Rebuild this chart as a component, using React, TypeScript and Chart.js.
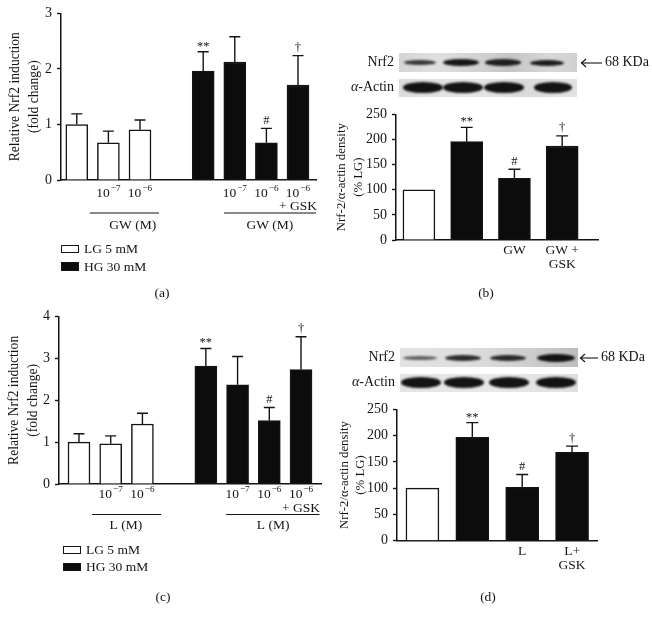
import React, { useEffect, useRef } from 'react';
import { Chart, registerables } from 'chart.js';

Chart.register(...registerables);

const FONT = '"Liberation Serif", "Times New Roman", serif';
const INK = '#141414';
const BLACK = '#0c0c0c';

// ---------- Panel (a): Nrf2 induction, GW ----------
const categoriesA: (string | string[])[] = ['', '10⁻⁷', '10⁻⁶', '', '', '10⁻⁷', '10⁻⁶', ['10⁻⁶', '+ GSK']];
const barSlotsA = [0, 1, 2, 4, 5, 6, 7];
const valuesA = [1.0, 0.67, 0.905, 1.96, 2.125, 0.67, 1.71];
const errorsA = [0.19, 0.21, 0.175, 0.35, 0.455, 0.26, 0.53];
const groupsA = ['LG', 'LG', 'LG', 'HG', 'HG', 'HG', 'HG'];
const marksA = ['', '', '', '**', '', '#', '†'];
const bracketLabelsA = ['GW (M)', 'GW (M)'];

// ---------- Panel (b): western blot density, GW ----------
const categoriesB: (string | string[])[] = ['', '', 'GW', ['GW +', 'GSK']];
const barSlotsB = [0, 1, 2, 3];
const valuesB = [100, 195.6, 122.7, 187];
const errorsB = [0, 28.4, 17.9, 20];
const groupsB = ['LG', 'HG', 'HG', 'HG'];
const marksB = ['', '**', '#', '†'];

// ---------- Panel (c): Nrf2 induction, L ----------
const categoriesC: (string | string[])[] = ['', '10⁻⁷', '10⁻⁶', '', '', '10⁻⁷', '10⁻⁶', ['10⁻⁶', '+ GSK']];
const barSlotsC = [0, 1, 2, 4, 5, 6, 7];
const valuesC = [1.0, 0.96, 1.435, 2.82, 2.37, 1.515, 2.735];
const errorsC = [0.2, 0.19, 0.255, 0.42, 0.68, 0.315, 0.785];
const groupsC = ['LG', 'LG', 'LG', 'HG', 'HG', 'HG', 'HG'];
const marksC = ['', '', '', '**', '', '#', '†'];
const bracketLabelsC = ['L (M)', 'L (M)'];

// ---------- Panel (d): western blot density, L ----------
const categoriesD: (string | string[])[] = ['', '', 'L', ['L+', 'GSK']];
const barSlotsD = [0, 1, 2, 3];
const valuesD = [100, 196.7, 101.5, 168];
const errorsD = [0, 28, 24.5, 12];
const groupsD = ['LG', 'HG', 'HG', 'HG'];
const marksD = ['', '**', '#', '†'];

const legendLabels = ['LG 5 mM', 'HG 30 mM'];

const SUP: Record<string, string> = {
  '⁻': '−', '⁰': '0', '¹': '1', '²': '2', '³': '3', '⁴': '4', '⁵': '5', '⁶': '6', '⁷': '7', '⁸': '8', '⁹': '9',
};

type Bracket = { from: number; to: number; labelAt: number; label: string };
type Spec = {
  w: number; h: number;
  left: number; right: number; top: number; bottom: number;
  categories: (string | string[])[];
  slots: number[]; values: number[]; errors: number[]; groups: string[]; marks: string[];
  xMin: number; xMax: number; yMax: number; yStep: number;
  barWidth: number; capHalf: number;
  title: string[]; titleSize: number; titleLine: number; titlePad: number;
  tickSize: number; labelDy: number; labelLine: number;
  brackets?: Bracket[]; bracketLineDy?: number; bracketLabelDy?: number;
};

// draws a text line, rendering trailing unicode superscripts as raised small text
function drawRich(ctx: CanvasRenderingContext2D, text: string, cx: number, cy: number, size: number) {
  const m = text.match(/^(.*?)([⁻⁰¹²³⁴⁵⁶⁷⁸⁹]+)$/);
  ctx.textBaseline = 'middle';
  if (!m) {
    ctx.font = `${size}px ${FONT}`;
    ctx.textAlign = 'center';
    ctx.fillText(text, cx, cy);
    return;
  }
  const base = m[1];
  const sup = m[2].split('').map((c) => SUP[c] || c).join('');
  const supSize = size * 0.68;
  ctx.font = `${size}px ${FONT}`;
  const wb = ctx.measureText(base).width;
  ctx.font = `${supSize}px ${FONT}`;
  const ws = ctx.measureText(sup).width;
  const x0 = cx - (wb + ws + 1) / 2;
  ctx.textAlign = 'left';
  ctx.font = `${size}px ${FONT}`;
  ctx.fillText(base, x0, cy);
  ctx.font = `${supSize}px ${FONT}`;
  ctx.fillText(sup, x0 + wb + 1, cy - size * 0.36);
}

function buildConfig(s: Spec): any {
  const data = s.slots.map((slot, i) => ({ x: slot, y: s.values[i] }));
  const colors = s.groups.map((g) => (g === 'LG' ? '#ffffff' : BLACK));
  const tickSlots = s.categories.map((c, i) => (Array.isArray(c) || c !== '' ? i : -1)).filter((i) => i >= 0);

  const overlay = {
    id: 'overlay',
    afterDatasetsDraw(chart: any) {
      const ctx = chart.ctx;
      const meta = chart.getDatasetMeta(0);
      const ys = chart.scales.y;
      const xs = chart.scales.x;
      ctx.save();
      ctx.strokeStyle = INK;
      ctx.fillStyle = INK;
      ctx.lineWidth = 1.4;
      meta.data.forEach((bar: any, i: number) => {
        const err = s.errors[i];
        const top = ys.getPixelForValue(s.values[i] + err);
        if (err > 0) {
          ctx.beginPath();
          ctx.moveTo(bar.x, bar.y);
          ctx.lineTo(bar.x, top);
          ctx.moveTo(bar.x - s.capHalf, top);
          ctx.lineTo(bar.x + s.capHalf, top);
          ctx.stroke();
        }
        const m = s.marks[i];
        if (m) {
          ctx.font = `12.5px ${FONT}`;
          ctx.textAlign = 'center';
          ctx.textBaseline = 'alphabetic';
          ctx.fillText(m, bar.x, top - (m.startsWith('*') ? 2 : 4.5));
        }
      });
      // category labels under the axis
      const base = chart.chartArea.bottom;
      tickSlots.forEach((slot) => {
        const c = s.categories[slot];
        const lines = Array.isArray(c) ? c : [c];
        const cx = xs.getPixelForValue(slot);
        lines.forEach((ln, k) => drawRich(ctx, ln, cx, base + s.labelDy + k * s.labelLine, s.tickSize));
      });
      if (s.brackets) {
        s.brackets.forEach((b) => {
          const x1 = xs.getPixelForValue(b.from);
          const x2 = xs.getPixelForValue(b.to);
          const y = base + (s.bracketLineDy || 0);
          ctx.lineWidth = 1.2;
          ctx.beginPath();
          ctx.moveTo(x1, y);
          ctx.lineTo(x2, y);
          ctx.stroke();
          drawRich(ctx, b.label, xs.getPixelForValue(b.labelAt), base + (s.bracketLabelDy || 0), s.tickSize);
        });
      }
      ctx.restore();
    },
  };

  return {
    type: 'bar',
    data: {
      datasets: [
        {
          data,
          backgroundColor: colors,
          borderColor: INK,
          borderWidth: 1.5,
          barThickness: s.barWidth,
        },
      ],
    },
    options: {
      animation: false,
      responsive: false,
      devicePixelRatio: 1,
      layout: { padding: { top: s.top, right: s.w - s.right, left: 0, bottom: 0 } },
      plugins: { legend: { display: false }, tooltip: { enabled: false } },
      scales: {
        x: {
          type: 'linear',
          min: s.xMin,
          max: s.xMax,
          offset: false,
          grid: { display: false, drawTicks: false, tickLength: 0, offset: false },
          border: { display: true, color: INK, width: 1.5 },
          afterBuildTicks: (scale: any) => {
            scale.ticks = tickSlots.map((v) => ({ value: v }));
          },
          afterFit: (scale: any) => {
            scale.height = s.h - s.bottom;
          },
          ticks: { display: false },
        },
        y: {
          min: 0,
          max: s.yMax,
          grid: {
            display: true,
            drawOnChartArea: false,
            drawTicks: true,
            tickLength: 4,
            tickColor: INK,
            tickWidth: 1.4,
          },
          border: { display: true, color: INK, width: 1.5 },
          afterFit: (scale: any) => {
            scale.width = s.left;
          },
          ticks: {
            stepSize: s.yStep,
            padding: 5,
            color: INK,
            font: { family: FONT, size: 14 },
          },
          title: {
            display: true,
            text: s.title,
            color: INK,
            font: { family: FONT, size: s.titleSize, lineHeight: s.titleLine / s.titleSize },
            padding: { top: s.titlePad, bottom: 0 },
          },
        },
      },
    },
    plugins: [overlay],
  };
}

const specA: Spec = {
  w: 330, h: 300, left: 61, right: 316, top: 12, bottom: 180,
  categories: categoriesA, slots: barSlotsA, values: valuesA, errors: errorsA, groups: groupsA, marks: marksA,
  xMin: -0.5, xMax: 7.57, yMax: 3, yStep: 1, barWidth: 22, capHalf: 5.5,
  title: ['Relative Nrf2 induction', '(fold change)'], titleSize: 13.6, titleLine: 19, titlePad: 5.5,
  tickSize: 13.5, labelDy: 13, labelLine: 13.5,
  brackets: [
    { from: 0.41, to: 2.6, labelAt: 1.77, label: bracketLabelsA[0] },
    { from: 4.66, to: 7.57, labelAt: 6.11, label: bracketLabelsA[1] },
  ],
  bracketLineDy: 33, bracketLabelDy: 45,
};

const specC: Spec = {
  w: 330, h: 320, left: 59, right: 321, top: 16.7, bottom: 184,
  categories: categoriesC, slots: barSlotsC, values: valuesC, errors: errorsC, groups: groupsC, marks: marksC,
  xMin: -0.63, xMax: 7.63, yMax: 4, yStep: 1, barWidth: 22, capHalf: 5.5,
  title: ['Relative Nrf2 induction', '(fold change)'], titleSize: 13.6, titleLine: 18.5, titlePad: 5.5,
  tickSize: 13.5, labelDy: 10.5, labelLine: 14,
  brackets: [
    { from: 0.41, to: 2.59, labelAt: 1.48, label: bracketLabelsC[0] },
    { from: 4.64, to: 7.58, labelAt: 6.12, label: bracketLabelsC[1] },
  ],
  bracketLineDy: 30.5, bracketLabelDy: 41.5,
};

const specB: Spec = {
  w: 332, h: 300, left: 76, right: 278, top: 114.3, bottom: 240,
  categories: categoriesB, slots: barSlotsB, values: valuesB, errors: errorsB, groups: groupsB, marks: marksB,
  xMin: -0.48, xMax: 3.75, yMax: 250, yStep: 50, barWidth: 32, capHalf: 6,
  title: ['Nrf-2/α-actin density', '(% LG)'], titleSize: 12.8, titleLine: 17, titlePad: 13,
  tickSize: 13.5, labelDy: 10.5, labelLine: 14,
};

const specD: Spec = {
  w: 332, h: 320, left: 77, right: 277, top: 109.3, bottom: 240.7,
  categories: categoriesD, slots: barSlotsD, values: valuesD, errors: errorsD, groups: groupsD, marks: marksD,
  xMin: -0.51, xMax: 3.5, yMax: 250, yStep: 50, barWidth: 33, capHalf: 6,
  title: ['Nrf-2/α-actin density', '(% LG)'], titleSize: 12.8, titleLine: 16.5, titlePad: 16,
  tickSize: 13.5, labelDy: 11, labelLine: 14,
};

function BarPanel({ spec, x, y }: { spec: Spec; x: number; y: number }) {
  const ref = useRef<HTMLCanvasElement>(null);
  useEffect(() => {
    const chart = new Chart(ref.current as HTMLCanvasElement, buildConfig(spec));
    return () => chart.destroy();
  }, []);
  return (
    <canvas
      ref={ref}
      width={spec.w}
      height={spec.h}
      style={{ position: 'absolute', left: x, top: y, width: spec.w, height: spec.h }}
    />
  );
}

const textStyle: React.CSSProperties = {
  position: 'absolute',
  fontFamily: FONT,
  fontSize: 13.5,
  color: INK,
  lineHeight: '16px',
  whiteSpace: 'nowrap',
};

function Legend({ x, y, gap }: { x: number; y: number; gap: number }) {
  return (
    <>
      {legendLabels.map((lab, i) => (
        <React.Fragment key={lab}>
          <div
            style={{
              position: 'absolute', left: x, top: y + i * gap, width: 18, height: 8.5,
              boxSizing: 'border-box', border: `1.3px solid ${INK}`,
              background: i === 0 ? '#fff' : BLACK,
            }}
          />
          <div style={{ ...textStyle, left: x + 23, top: y + i * gap - 3.5 }}>{lab}</div>
        </React.Fragment>
      ))}
    </>
  );
}

function Letter({ x, y, t }: { x: number; y: number; t: string }) {
  return <div style={{ ...textStyle, left: x - 20, width: 40, textAlign: 'center', top: y - 8 }}>{t}</div>;
}

type Band = { c: number; w: number; h: number; a: number };

function Strip({ x, y, w, h, bands, bg }: { x: number; y: number; w: number; h: number; bands: Band[]; bg: string }) {
  return (
    <div style={{ position: 'absolute', left: x, top: y, width: w, height: h, overflow: 'hidden', background: bg }}>
      {bands.map((b, i) => (
        <div
          key={i}
          style={{
            position: 'absolute', left: b.c - x - b.w / 2, top: h / 2 - b.h / 2, width: b.w, height: b.h,
            borderRadius: '50%', background: `rgba(12,12,12,${b.a})`, filter: 'blur(1px)',
          }}
        />
      ))}
    </div>
  );
}

function Blot({ x, nrfY, actY, nrfBands, actBands, arrowX1, arrowX2, nrfBg, actBg }: any) {
  return (
    <>
      <div style={{ ...textStyle, fontSize: 14, left: x - 85, width: 80, textAlign: 'right', top: nrfY + 9.5 - 8.5 }}>Nrf2</div>
      <div style={{ ...textStyle, fontSize: 14, left: x - 85, width: 80, textAlign: 'right', top: actY + 9 - 8.5 }}>
        <i>α</i>-Actin
      </div>
      <Strip x={x} y={nrfY} w={178} h={19} bands={nrfBands} bg={nrfBg} />
      <Strip x={x} y={actY} w={178} h={18} bands={actBands} bg={actBg} />
      <svg
        style={{ position: 'absolute', left: arrowX1 - 1, top: nrfY + 9.5 - 5 }}
        width={arrowX2 - arrowX1 + 2}
        height={10}
      >
        <line x1={1} y1={5} x2={arrowX2 - arrowX1 + 1} y2={5} stroke={INK} strokeWidth={1.1} />
        <polyline points="6,1 1.5,5 6,9" fill="none" stroke={INK} strokeWidth={1.1} />
      </svg>
      <div style={{ ...textStyle, fontSize: 14, left: arrowX2 + 3, top: nrfY + 9.5 - 8.5 }}>68 KDa</div>
    </>
  );
}

export default function App() {
  useEffect(() => {
    document.body.style.margin = '0';
  }, []);
  return (
    <div style={{ position: 'absolute', left: 0, top: 0, width: 652, height: 620, background: '#fff', overflow: 'hidden' }}>
      <BarPanel spec={specA} x={0} y={0} />
      <BarPanel spec={specB} x={320} y={0} />
      <BarPanel spec={specC} x={0} y={300} />
      <BarPanel spec={specD} x={320} y={300} />

      <Legend x={61} y={244.5} gap={17.5} />
      <Legend x={63} y={545.5} gap={17} />

      <Letter x={162} y={293} t="(a)" />
      <Letter x={486} y={293} t="(b)" />
      <Letter x={163} y={597} t="(c)" />
      <Letter x={488} y={597} t="(d)" />

      <Blot
        x={399} nrfY={53} actY={78.5}
        nrfBg="linear-gradient(90deg,#d4d4d4,#e0e0e0 20%,#cfcfcf 50%,#c4c4c4 62%,#d8d8d8 85%,#d0d0d0)"
        actBg="linear-gradient(90deg,#dcdcdc,#e6e6e6 40%,#dadada 70%,#e2e2e2)"
        nrfBands={[
          { c: 420, w: 32, h: 5, a: 0.8 },
          { c: 461, w: 36, h: 7, a: 0.95 },
          { c: 503, w: 36, h: 6.5, a: 0.9 },
          { c: 547, w: 34, h: 6, a: 0.92 },
        ]}
        actBands={[
          { c: 423, w: 40, h: 10.5, a: 0.97 },
          { c: 463, w: 40, h: 10.5, a: 0.97 },
          { c: 504, w: 40, h: 10.5, a: 0.97 },
          { c: 553, w: 38, h: 10.5, a: 0.97 },
        ]}
        arrowX1={581} arrowX2={602}
      />
      <Blot
        x={400} nrfY={348} actY={373.5}
        nrfBg="linear-gradient(90deg,#e2e2e2,#dddddd 40%,#cfcfcf 70%,#bdbdbd)"
        actBg="linear-gradient(90deg,#e4e4e4,#e8e8e8 50%,#e0e0e0)"
        nrfBands={[
          { c: 420, w: 34, h: 4, a: 0.6 },
          { c: 463, w: 36, h: 6, a: 0.85 },
          { c: 508, w: 36, h: 6, a: 0.85 },
          { c: 556, w: 38, h: 8, a: 0.97 },
        ]}
        actBands={[
          { c: 421, w: 40, h: 10.5, a: 0.97 },
          { c: 464, w: 40, h: 10.5, a: 0.97 },
          { c: 509, w: 40, h: 10.5, a: 0.97 },
          { c: 556, w: 40, h: 10.5, a: 0.97 },
        ]}
        arrowX1={580} arrowX2={598}
      />
    </div>
  );
}
